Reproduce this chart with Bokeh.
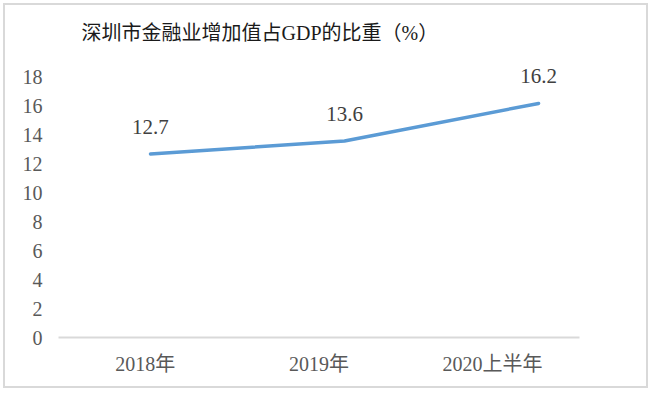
from bokeh.plotting import figure
from bokeh.models import FixedTicker, ColumnDataSource, Range1d, LabelSet
from bokeh.embed import file_html
from bokeh.resources import INLINE

# ---- data ----
title_text = "深圳市金融业增加值占GDP的比重（%）"
categories = ["2018年", "2019年", "2020上半年"]
shares = [12.7, 13.6, 16.2]
share_labels = ["12.7", "13.6", "16.2"]
y_ticks = [0, 2, 4, 6, 8, 10, 12, 14, 16, 18]

FONT = "Liberation Serif, Times New Roman, Noto Sans CJK SC"
TITLE_FONT = "Liberation Serif, Noto Sans CJK SC"

idx = list(range(len(categories)))
src = ColumnDataSource(dict(idx=idx, y=shares, lab=share_labels))

# category label positions (layout: labels sit slightly left of the points, as in the source)
label_pos = [round(i * 0.895 - 0.027, 3) for i in idx]

p = figure(width=645, height=385, output_backend="svg", toolbar_location=None,
           x_range=Range1d(-0.474, 2.211), y_range=Range1d(0, 20),
           min_border_left=53, min_border_right=71,
           min_border_top=43, min_border_bottom=53, title=title_text)

p.styles = {"border": "2px solid #d9d9d9", "margin": "3px"}
p.outline_line_color = None
p.background_fill_color = "white"
p.border_fill_color = "white"
p.xgrid.visible = False
p.ygrid.visible = False

p.title.text_font = TITLE_FONT
p.title.text_font_size = "20px"
p.title.text_font_style = "normal"
p.title.text_color = "#1a1a1a"
p.title.align = "left"
p.title.offset = 23
p.title.standoff = 10

# y axis
ya = p.yaxis[0]
ya.ticker = FixedTicker(ticks=y_ticks)
ya.axis_line_color = None
ya.major_tick_line_color = None
ya.minor_tick_line_color = None
ya.major_label_text_font = FONT
ya.major_label_text_font_size = "20px"
ya.major_label_text_color = "#595959"
ya.major_label_standoff = 10

# x axis with category labels
xa = p.xaxis[0]
xa.ticker = FixedTicker(ticks=label_pos)
xa.major_label_overrides = {pos: cat for pos, cat in zip(label_pos, categories)}
xa.axis_line_color = "#d9d9d9"
xa.axis_line_width = 2
xa.major_tick_line_color = None
xa.minor_tick_line_color = None
xa.major_label_text_font = FONT
xa.major_label_text_font_size = "20px"
xa.major_label_text_color = "#595959"
xa.major_label_standoff = 9

p.line("idx", "y", source=src, line_width=3.5, line_color="#5B9BD5",
       line_join="round", line_cap="round")

labels = LabelSet(x="idx", y="y", text="lab", source=src, text_font=FONT,
                  text_font_size="21px", text_color="#404040", text_align="center",
                  text_baseline="middle", y_offset=27)
p.add_layout(labels)

open("out.html", "w").write(file_html(p, INLINE))
